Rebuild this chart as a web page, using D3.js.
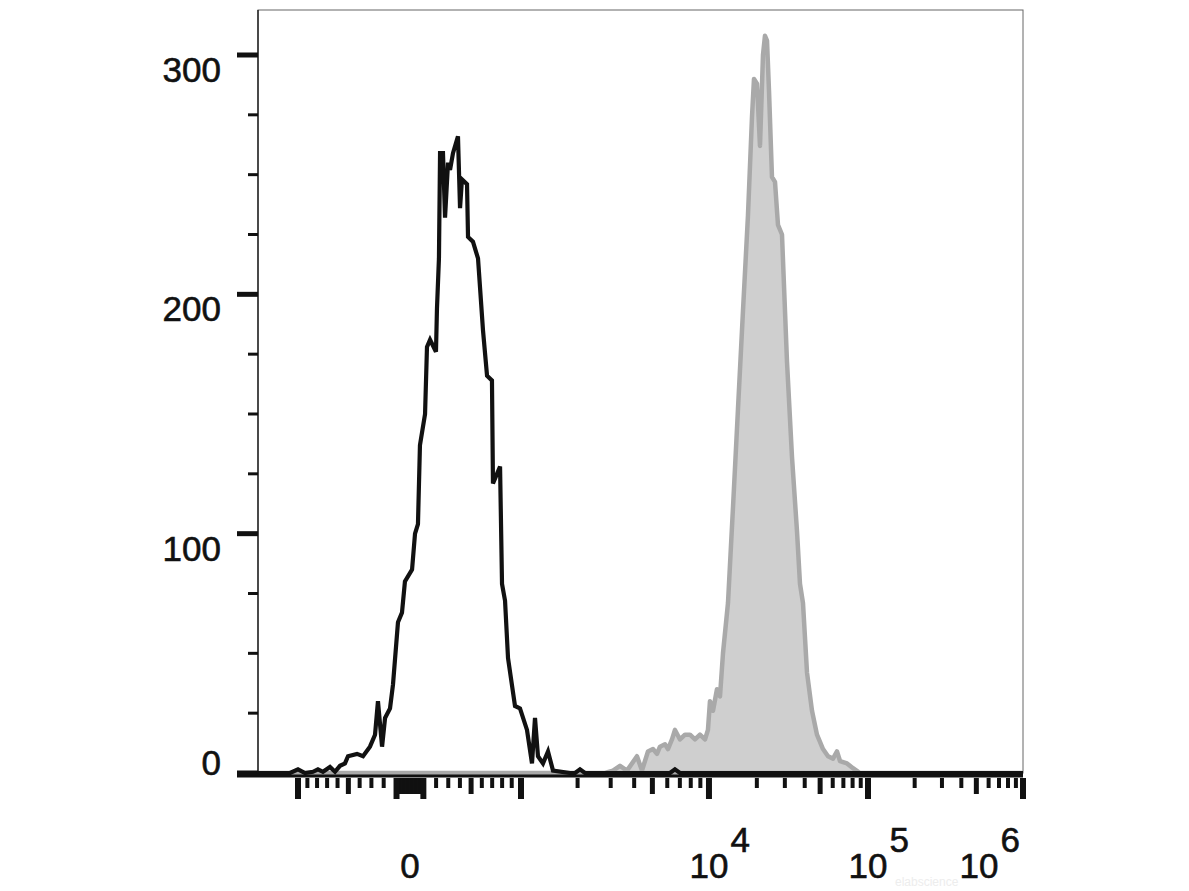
<!DOCTYPE html>
<html><head><meta charset="utf-8">
<script src="https://cdn.jsdelivr.net/npm/d3@7"></script>
<style>html,body{margin:0;padding:0;background:#fff;} svg{display:block;}</style>
</head><body>
<svg id="chart" width="1189" height="891"></svg>
<script>
// ---------- data (fluorescence intensity, event count) ----------
const blackIntensity = [-1470,-1088,-1000,-925,-842,-791,-741,-672,-624,-577,-531,-503,-423,-371,-312,-270,-246,-213,-189,-150,-127,-89,-59,-37,15,37,59,74,113,128,152,199,207,223,232,256,273,298,315,340,383,401,418,463,472,517,564,611,650,698,708,779,799,830,861,935,989,1076,1144,1187,1231,1309,1392,1480,1823,1940,2060,2190,6200,6590,7010,1000000];
const blackCount = [0,0,1.5,0,0.5,1.5,0.5,2.5,0.5,3,4,7,8,7,11,16,30,11,23,27,37,63,67,80,85,100,104,137,150,178,181,176,194,215,259,259,232,255,252,259,266,236,248,246,224,222,215,185,166,164,121,128,79,72,48,28,27,18,4,23,7,4,9,1,0,0,1.5,0,0,1.5,0,0];

const grayIntensity = [-1470,2797,3086,3362,3663,4140,4401,4737,5036,5290,5488,5834,6051,6356,6594,7012,7455,7925,8425,8957,9522,9878,10146,10600,11230,11730,12250,13170,14160,15220,16360,17590,18640,19190,20040,20930,21860,22500,23170,23850,24900,26010,27160,28780,30940,33270,35770,37350,39010,41340,44440,47770,52120,56040,60260,63830,66670,73790,80500,89060,1000000];
const grayCount = [0,0,1,3,1,7,1,9,10,8,11,12,10,14,18,14,16,16,14,16,14,18,30,26,35,32,50,71,111,152,193,233,274,290,288,262,300,308,306,285,249,247,229,225,172,132,101,79,71,42,26,16,10,7,6,9,5,4,2,0,0];

// ---------- axis ticks ----------
const yMajorTicks = [0,100,200,300];
const yMinorTicks = [25,50,75,125,150,175,225,250,275];
const xLongTicks = [-1000,-100,100,1000,10000,100000,1000000];
const xMediumTicks = [-500,-90,-80,-70,-60,-50,-40,-30,-20,-10,0,10,20,30,40,50,60,70,80,90,500,5000,50000,500000];
const xShortTicks = [-900,-800,-700,-600,-400,-300,-200,200,300,400,600,700,800,900,2000,3000,4000,6000,7000,8000,9000,20000,30000,40000,60000,70000,80000,90000,200000,300000,400000,600000,700000,800000,900000];
const xLabelValues = [0,10000,100000,1000000];
const xLabelBase = ["0","10","10","10"];
const xLabelExp = ["","4","5","6"];
const yMax = 318.8;

// ---------- layout ----------
const margin = {left:258, top:10};
const W = 765, H = 763;
const font = "'Liberation Sans', Arial, sans-serif";

const svg = d3.select('#chart');
const g = svg.append('g').attr('transform', `translate(${margin.left},${margin.top})`);

const y = d3.scaleLinear().domain([0, yMax]).range([H, 0]);
// biexponential-like display: linear-ish around zero, log for high decades
const xInner = d3.scaleSymlog().constant(2000).domain([-1000, 0, 1000]).range([0.0523*W, 0.1987*W, 0.3438*W]);
const xOuter = d3.scaleLog().domain([1000, 10000, 100000, 1000000]).range([0.3438*W, 0.5895*W, 0.7974*W, W]);
const x = v => v <= 1000 ? xInner(v) : xOuter(v);

// frame
g.append('rect').attr('x',0).attr('y',0).attr('width',W).attr('height',H)
  .attr('fill','none').attr('stroke','#666').attr('stroke-width',1);

// clip
svg.append('defs').append('clipPath').attr('id','clip')
  .append('rect').attr('x',0).attr('y',-2).attr('width',W).attr('height',H+4);

const grayData = grayIntensity.map((v,i)=>[v, grayCount[i]]);
const blackData = blackIntensity.map((v,i)=>[v, blackCount[i]]);

const curves = g.append('g').attr('clip-path','url(#clip)');
curves.append('path').datum(grayData)
  .attr('d', d3.area().x(d=>x(d[0])).y0(y(0)).y1(d=>y(d[1])))
  .attr('fill','#cfcfcf').attr('stroke','#a9a9a9').attr('stroke-width',4.5)
  .attr('stroke-linejoin','round');
curves.append('path').datum(blackData)
  .attr('d', d3.line().x(d=>x(d[0])).y(d=>y(d[1])))
  .attr('fill','none').attr('stroke','#111').attr('stroke-width',4.2)
  .attr('stroke-linejoin','miter').attr('stroke-miterlimit',4);

// y axis line
g.append('line').attr('x1',0).attr('x2',0).attr('y1',0).attr('y2',H)
  .attr('stroke','#111').attr('stroke-width',1.3);
// x axis base line
g.append('line').attr('x1',-21).attr('x2',W).attr('y1',H+3).attr('y2',H+3)
  .attr('stroke','#111').attr('stroke-width',3);

// y ticks
g.selectAll('.ymaj').data(yMajorTicks).join('line')
  .attr('class','ymaj')
  .attr('x1',-21).attr('x2',0).attr('y1',d=>y(d)).attr('y2',d=>y(d))
  .attr('stroke','#111').attr('stroke-width',5);
g.selectAll('.ymin').data(yMinorTicks).join('line')
  .attr('class','ymin')
  .attr('x1',-10).attr('x2',0).attr('y1',d=>y(d)).attr('y2',d=>y(d))
  .attr('stroke','#111').attr('stroke-width',3);

// y labels
g.selectAll('.ylab').data(yMajorTicks).join('text')
  .attr('class','ylab')
  .attr('x',-37).attr('y',d=>Math.min(y(d)+27, y(0)+2))
  .attr('text-anchor','end').attr('font-family',font).attr('font-size',35)
  .attr('fill','#111').attr('stroke','#111').attr('stroke-width',0.6).text(d=>d);

// x ticks
const tickTop = H + 5;
function drawTicks(vals, len, wdt, cls){
  g.selectAll('.'+cls).data(vals).join('line').attr('class',cls)
    .attr('x1',d=>x(d)).attr('x2',d=>x(d))
    .attr('y1',tickTop).attr('y2',tickTop+len)
    .attr('stroke','#111').attr('stroke-width',wdt);
}
drawTicks(xShortTicks, 10, 4, 'xs');
drawTicks(xMediumTicks, 16, 5, 'xm');
drawTicks(xLongTicks, 21, 6, 'xl');

// watermark (faint)
g.append('text').attr('x',637).attr('y',876).attr('font-family',font)
  .attr('font-size',12).attr('fill','#ededed').text('elabscience');

// x labels
xLabelValues.forEach((v,i)=>{
  let cx = x(v);
  const base = g.append('text').attr('y',868).attr('text-anchor','middle')
    .attr('font-family',font).attr('font-size',35).attr('fill','#111')
    .attr('stroke','#111').attr('stroke-width',0.6).text(xLabelBase[i]);
  if (!xLabelExp[i]) { base.attr('x',cx); return; }
  const exp = g.append('text').attr('y',842).attr('text-anchor','start')
    .attr('font-family',font).attr('font-size',35).attr('fill','#111')
    .attr('stroke','#111').attr('stroke-width',0.6).text(xLabelExp[i]);
  base.attr('x',cx);
  const bw = base.node().getComputedTextLength();
  const ew = exp.node().getComputedTextLength();
  const right = cx + bw/2 + 2 + ew;
  if (right > W - 3) cx -= right - (W - 3);
  base.attr('x',cx);
  exp.attr('x',cx + bw/2 + 2);
});
</script>
</body></html>
